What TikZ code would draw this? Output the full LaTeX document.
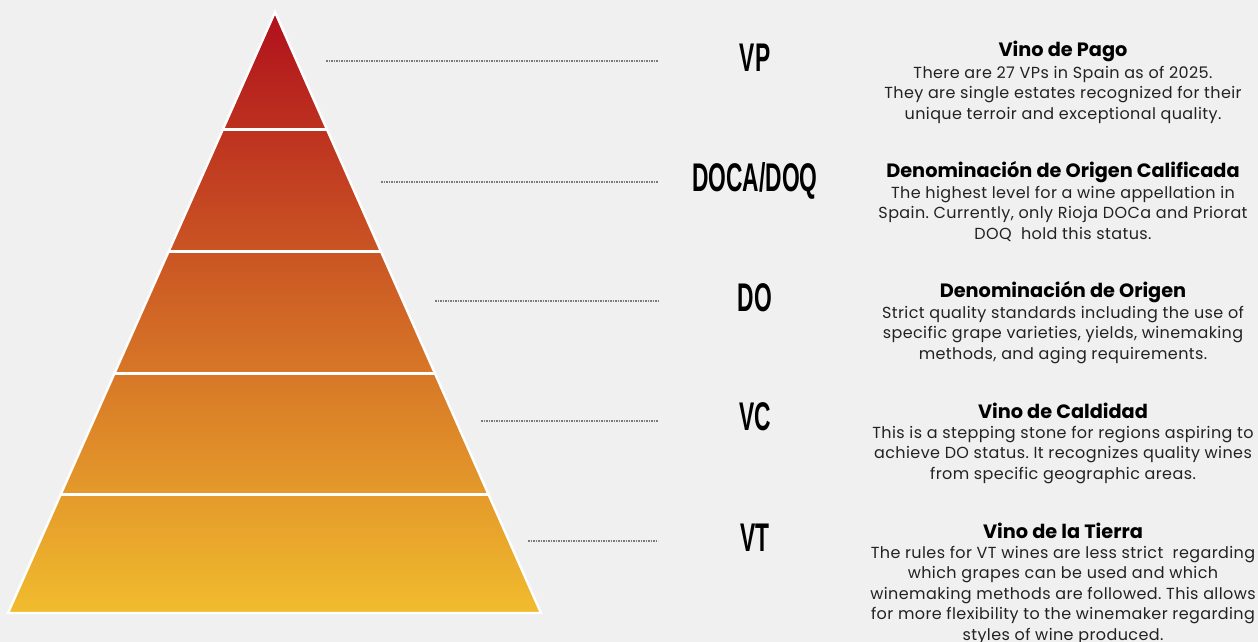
\documentclass[tikz,border=0pt]{standalone}
\usepackage{fontspec}
\setmainfont{Poppins}
\newfontfamily\bodyfont[LetterSpace=2.5]{Poppins}
\newfontfamily\labelfont[FakeStretch=0.57]{Liberation Sans}
\frenchspacing
\definecolor{bg}{HTML}{F0F0F0}
\definecolor{pyrtop}{HTML}{B0101C}
\definecolor{pyrmid}{HTML}{D5601F}
\definecolor{pyrbot}{HTML}{F1BC2E}
\definecolor{dotgray}{HTML}{7A7A7A}
\definecolor{bodytext}{HTML}{222222}
\tikzset{
  sep/.style={white, line width=3pt},
  leader/.style={dotgray, line width=1.4pt, dash pattern=on 1.6pt off 0.9pt},
  lvl/.style={font=\labelfont\bfseries\fontsize{40}{40}\selectfont, anchor=base, inner sep=0pt, text=black},
  ttl/.style={font=\bfseries\fontsize{19.3}{22}\selectfont, anchor=center, inner sep=0pt, text=black},
  body/.style={font=\bodyfont\frenchspacing\fontsize{16}{20.5}\selectfont, align=center, anchor=north, inner sep=0pt, text=bodytext}
}
\begin{document}
\begin{tikzpicture}[x=1pt,y=-1pt]
\fill[bg] (0,0) rectangle (1258,642);
\useasboundingbox (0,0) rectangle (1258,642);
% pyramid
\coordinate (apex) at (275,12);
\coordinate (bl) at (8,613);
\coordinate (br) at (541,613);
\shade[top color=pyrtop, middle color=pyrmid, bottom color=pyrbot] (apex) -- (br) -- (bl) -- cycle;
\coordinate (s1l) at (223.0,129); \coordinate (s1r) at (326.8,129);
\coordinate (s2l) at (168.8,251); \coordinate (s2r) at (380.8,251);
\coordinate (s3l) at (114.6,373); \coordinate (s3r) at (434.8,373);
\coordinate (s4l) at (60.9,494);  \coordinate (s4r) at (488.3,494);
\draw[sep] (s1l) -- (s1r);
\draw[sep] (s2l) -- (s2r);
\draw[sep] (s3l) -- (s3r);
\draw[sep] (s4l) -- (s4r);
\draw[white, line width=2.4pt, line join=miter] (apex) -- (br) -- (bl) -- cycle;
% leaders
\coordinate (d1a) at (326,61);  \coordinate (d1b) at (658,61);
\coordinate (d2a) at (381,182); \coordinate (d2b) at (658,182);
\coordinate (d3a) at (435,301); \coordinate (d3b) at (658,301);
\coordinate (d4a) at (481,421); \coordinate (d4b) at (658,421);
\coordinate (d5a) at (528,541); \coordinate (d5b) at (658,541);
\draw[leader] (d1a) -- (d1b);
\draw[leader] (d2a) -- (d2b);
\draw[leader] (d3a) -- (d3b);
\draw[leader] (d4a) -- (d4b);
\draw[leader] (d5a) -- (d5b);
% level labels
\node[lvl] (vp) at (755,72) {VP};
\node[lvl] (doca) at (755,191) {DOCA/DOQ};
\node[lvl] (do) at (755,311) {DO};
\node[lvl] (vc) at (755,430) {VC};
\node[lvl] (vt) at (755,551) {VT};
% descriptions
\node[ttl] (t1) at (1063,51) {Vino de Pago};
\node[body] (b1) at (1063,66) {There are 27 VPs in Spain as of 2025.\\They are single estates recognized for their\\unique terroir and exceptional quality.};
\node[ttl] (t2) at (1063,172) {Denominación de Origen Calificada};
\node[body] (b2) at (1063,186) {The highest level for a wine appellation in\\Spain. Currently, only Rioja DOCa and Priorat\\DOQ\ \ hold this status.};
\node[ttl] (t3) at (1063,292) {Denominación de Origen};
\node[body] (b3) at (1063,306) {Strict quality standards including the use of\\specific grape varieties, yields, winemaking\\methods, and aging requirements.};
\node[ttl] (t4) at (1063,411) {Vino de Caldidad};
\node[body] (b4) at (1063,426) {This is a stepping stone for regions aspiring to\\achieve DO status. It recognizes quality wines\\from specific geographic areas.};
\node[ttl] (t5) at (1063,531) {Vino de la Tierra};
\node[body] (b5) at (1063,546) {The rules for VT wines are less strict\ \ regarding\\which grapes can be used and which\\winemaking methods are followed. This allows\\for more flexibility to the winemaker regarding\\styles of wine produced.};
\end{tikzpicture}
\end{document}
